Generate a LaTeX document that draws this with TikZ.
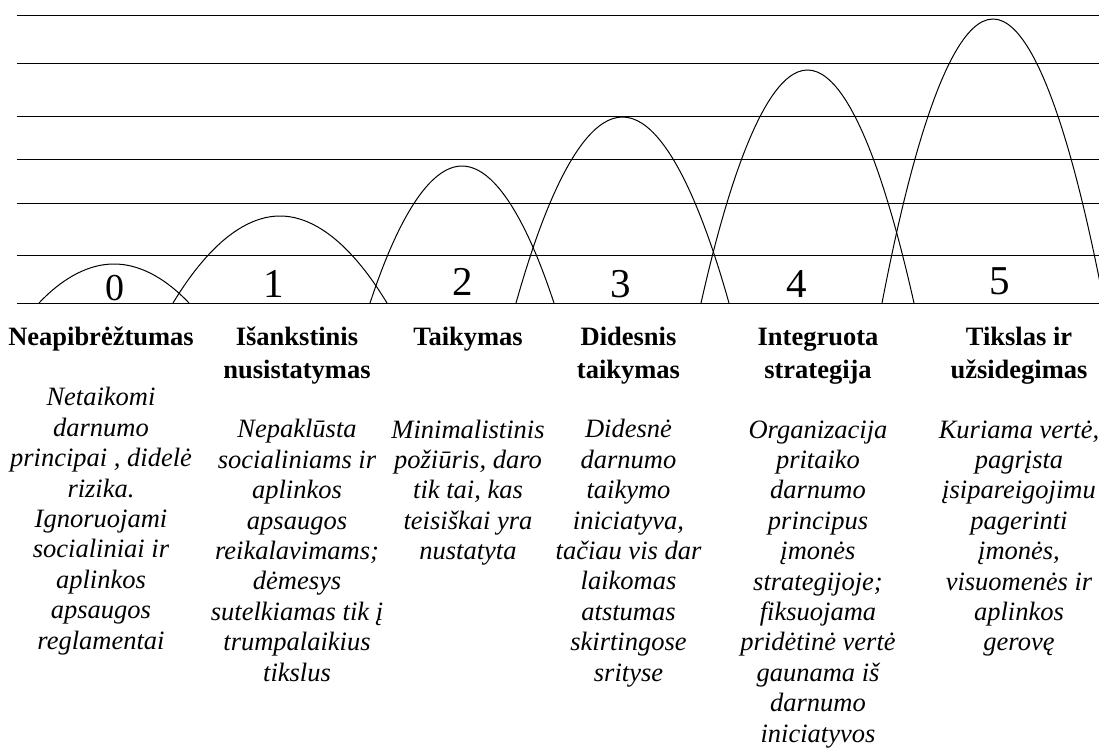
\documentclass[tikz,border=0pt]{standalone}
\usepackage{fontspec}
\setmainfont{Liberation Serif}
\begin{document}
\begin{tikzpicture}[x=1pt,y=-1pt,
  rule/.style={line width=1pt},
  arch/.style={line width=1pt},
  digit/.style={anchor=base,inner sep=0pt,font=\fontsize{41}{45}\selectfont},
  title/.style={anchor=base,inner sep=0pt,align=center,font=\fontsize{26.5}{33}\selectfont\bfseries},
  desc/.style={anchor=base,inner sep=0pt,align=center,font=\fontsize{26.5}{30.4}\selectfont\itshape}]
\clip (0,0) rectangle (1099,747);
% horizontal rules
\foreach \yy in {15,63,116,159,203,255,303}
  \draw[rule] (17,\yy) -- (1099,\yy);
% arches
\draw[arch] (39,303) parabola bend (114,264) (189,303);
\draw[arch] (173,303) parabola bend (280,216) (387,303);
\draw[arch] (370,303) parabola bend (462,166) (554,303);
\draw[arch] (516,303) parabola bend (622.5,117) (729,303);
\draw[arch] (701,303) parabola bend (807.5,70) (914,303);
\draw[arch] (882,303) parabola bend (993,19) (1104,303);
% digits
\node[digit,font=\fontsize{38}{42}\selectfont] (d0) at (115,300) {0};
\node[digit] (d1) at (273.5,297) {1};
\node[digit] (d2) at (462.5,295) {2};
\node[digit] (d3) at (621,297.5) {3};
\node[digit] (d4) at (797,297) {4};
\node[digit] (d5) at (999.5,294.5) {5};
% titles (anchored at the baseline of their last line)
\node[title] (t0) at (101,345) {Neapibrėžtumas};
\node[title] (t1) at (297,378) {Išankstinis\\nusistatymas};
\node[title] (t2) at (468,345) {Taikymas};
\node[title] (t3) at (628.5,378) {Didesnis\\taikymas};
\node[title] (t4) at (818,378) {Integruota\\strategija};
\node[title] (t5) at (1019,378) {Tikslas ir\\užsidegimas};
% descriptions (anchored at the baseline of their last line)
\node[desc] (e0) at (101,649) {Netaikomi\\darnumo\\principai , didelė\\rizika.\\Ignoruojami\\socialiniai ir\\aplinkos\\apsaugos\\reglamentai};
\node[desc] (e1) at (297,681) {Nepaklūsta\\socialiniams ir\\aplinkos\\apsaugos\\reikalavimams;\\dėmesys\\sutelkiamas tik į\\trumpalaikius\\tikslus};
\node[desc] (e2) at (468,559.6) {Minimalistinis\\požiūris, daro\\tik tai, kas\\teisiškai yra\\nustatyta};
\node[desc] (e3) at (628.5,681) {Didesnė\\darnumo\\taikymo\\iniciatyva,\\tačiau vis dar\\laikomas\\atstumas\\skirtingose\\srityse};
\node[desc] (e4) at (818,742) {Organizacija\\pritaiko\\darnumo\\principus\\įmonės\\strategijoje;\\fiksuojama\\pridėtinė vertė\\gaunama iš\\darnumo\\iniciatyvos};
\node[desc] (e5) at (1019,650.8) {Kuriama vertė,\\pagrįsta\\įsipareigojimu\\pagerinti\\įmonės,\\visuomenės ir\\aplinkos\\gerovę};
\end{tikzpicture}
\end{document}
